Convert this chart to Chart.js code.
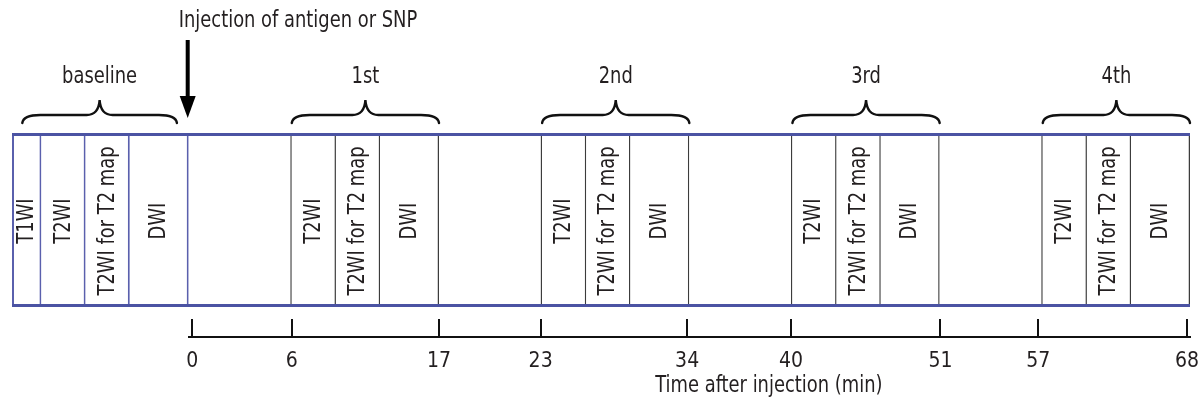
<!DOCTYPE html>
<html>
<head>
<meta charset="utf-8">
<script src="https://cdn.jsdelivr.net/npm/chart.js@4.4.1/dist/chart.umd.min.js"></script>
<style>
  html, body { margin: 0; padding: 0; background: #ffffff; }
  #wrap { width: 1200px; height: 407px; position: relative; }
</style>
</head>
<body>
<div id="wrap"><canvas id="c"></canvas></div>
<script>
// ---------------- data ----------------
// Cells of the MR protocol, on the drawn timeline (diagram units; 0 = injection)
const cellStart  = [-12, -10, -7, -4, 0, 7, 10, 13, 17, 24, 27, 30, 34, 41, 44, 47, 51, 58, 61, 64];
const cellEnd    = [-10, -7, -4, 0, 7, 10, 13, 17, 24, 27, 30, 34, 41, 44, 47, 51, 58, 61, 64, 68];
const cellLabels = ['T1WI', 'T2WI', 'T2WI for T2 map', 'DWI', '',
                    'T2WI', 'T2WI for T2 map', 'DWI', '',
                    'T2WI', 'T2WI for T2 map', 'DWI', '',
                    'T2WI', 'T2WI for T2 map', 'DWI', '',
                    'T2WI', 'T2WI for T2 map', 'DWI'];

// Axis ticks (position on the drawn timeline) and their labels (minutes)
const tickPositions = [0.25, 7, 17, 23.9, 33.85, 40.9, 51.05, 57.7, 67.8];
const tickLabels    = ['0', '6', '17', '23', '34', '40', '51', '57', '68'];
const axisTitle     = 'Time after injection (min)';

// Scan sessions marked with braces
const groupLabels = ['baseline', '1st', '2nd', '3rd', '4th'];
const braceStart  = [-11.3, 7, 24, 41, 58];
const braceEnd    = [-0.8, 17, 34, 51, 68];

// Injection marker
const injectionAt    = 0;
const injectionLabel = 'Injection of antigen or SNP';

// ---------------- styles ----------------
const FONT_FAMILY = "'Liberation Sans Narrow', 'Arial Narrow', 'DejaVu Sans Condensed', sans-serif";
const FONT_SIZE = 23;
const TEXT_SQUEEZE = 0.865;   // horizontal condensing of annotation text
const TICK_SIZE = 21;
const TEXT = '#231f20';
const FRAME_BLUE = '#4b53a3';
const BASE_BLUE = '#5a60ad';
const DARK = '#3c3c3c';
const ROW = 0.5;           // the single row of cells spans y 0..1
const Y_MIN = -0.1724;     // room between the row and the time axis
const Y_MAX = 1;
const X_MIN = 0, X_MAX = 68;

Chart.defaults.font.family = FONT_FAMILY;
Chart.defaults.font.size = FONT_SIZE;
Chart.defaults.color = TEXT;

const cellData = cellStart.map((s, i) => ({ x: [s, cellEnd[i]], y: ROW }));
const frameData = [{ x: [cellStart[0], cellEnd[cellEnd.length - 1]], y: ROW }];

const isBaseline = i => cellEnd[i] <= injectionAt;

function squeezedText(ctx, text, x, y, align) {
  ctx.save();
  ctx.translate(x, y);
  ctx.scale(TEXT_SQUEEZE, 1);
  ctx.textAlign = align || 'center';
  ctx.fillText(text, 0, 0);
  ctx.restore();
}

const annotations = {
  id: 'annotations',
  afterDatasetsDraw(chart) {
    const { ctx, chartArea, scales: { x } } = chart;
    ctx.save();
    ctx.fillStyle = TEXT;
    ctx.strokeStyle = '#111';
    ctx.font = FONT_SIZE + 'px ' + FONT_FAMILY;
    ctx.textBaseline = 'middle';

    // vertical labels inside cells
    const meta = chart.getDatasetMeta(0);
    meta.data.forEach((bar, i) => {
      const label = cellLabels[i];
      if (!label) return;
      const p = bar.getProps(['x', 'y', 'base'], true);
      const cx = (p.x + p.base) / 2;
      ctx.save();
      ctx.translate(cx, p.y + 1);
      ctx.rotate(-Math.PI / 2);
      squeezedText(ctx, label, 0, 0, 'center');
      ctx.restore();
    });

    // braces + session labels
    const top = chartArea.top;
    const yEnd = top - 10, yMid = top - 18, yTip = top - 33, yLabel = top - 56;
    ctx.lineWidth = 2.4;
    ctx.lineCap = 'round';
    groupLabels.forEach((g, i) => {
      const x0 = x.getPixelForValue(braceStart[i]);
      const x1 = x.getPixelForValue(braceEnd[i]);
      const xc = (x0 + x1) / 2;
      const r = 18, rt = 13;
      ctx.beginPath();
      ctx.moveTo(x0, yEnd);
      ctx.quadraticCurveTo(x0 + 1, yMid, x0 + r, yMid);
      ctx.lineTo(xc - rt, yMid);
      ctx.quadraticCurveTo(xc - 1, yMid, xc, yTip);
      ctx.quadraticCurveTo(xc + 1, yMid, xc + rt, yMid);
      ctx.lineTo(x1 - r, yMid);
      ctx.quadraticCurveTo(x1 - 1, yMid, x1, yEnd);
      ctx.stroke();
      squeezedText(ctx, g, xc, yLabel, 'center');
    });

    // injection arrow + label
    const ax = x.getPixelForValue(injectionAt) - 1;
    ctx.fillStyle = '#000';
    ctx.fillRect(ax - 2, top - 93, 4, 60);
    ctx.beginPath();
    ctx.moveTo(ax - 8, top - 37);
    ctx.lineTo(ax + 8, top - 37);
    ctx.lineTo(ax, top - 15);
    ctx.closePath();
    ctx.fill();
    ctx.fillStyle = TEXT;
    squeezedText(ctx, injectionLabel, ax - 9, top - 112, 'left');

    // axis title
    squeezedText(ctx, axisTitle, x.getPixelForValue(39.4), chartArea.bottom + 49, 'center');
    ctx.restore();
  }
};

new Chart(document.getElementById('c'), {
  type: 'bar',
  data: {
    datasets: [
      {
        label: 'cells',
        data: cellData,
        order: 1,
        clip: false,
        backgroundColor: '#ffffff',
        borderColor: ctx => isBaseline(ctx.dataIndex) ? BASE_BLUE : DARK,
        borderWidth: ctx => ({
          left: ctx.dataIndex === 0 ? 2 : 0,
          right: isBaseline(ctx.dataIndex) ? 2 : 1.5,
          top: 0, bottom: 0
        }),
        borderSkipped: false
      },
      {
        label: 'frame',
        data: frameData,
        order: 0,
        clip: false,
        backgroundColor: 'rgba(0,0,0,0)',
        borderColor: FRAME_BLUE,
        borderWidth: { left: 0, right: 0, top: 3, bottom: 3 },
        borderSkipped: false
      }
    ]
  },
  options: {
    indexAxis: 'y',
    responsive: true,
    maintainAspectRatio: false,
    animation: false,
    grouped: false,
    barPercentage: 1 / (Y_MAX - Y_MIN),
    categoryPercentage: 1,
    layout: { padding: { left: 188.7, right: 10, top: 133, bottom: 2 } },
    plugins: { legend: { display: false }, tooltip: { enabled: false } },
    scales: {
      y: {
        type: 'linear',
        min: Y_MIN,
        max: Y_MAX,
        offset: false,
        display: false,
        afterBuildTicks: s => { s.ticks = [{ value: Y_MIN }, { value: Y_MAX }]; }
      },
      x: {
        type: 'linear',
        position: 'bottom',
        min: X_MIN,
        max: X_MAX,
        offset: false,
        afterBuildTicks: s => { s.ticks = tickPositions.map(v => ({ value: v })); },
        ticks: {
          autoSkip: false,
          maxRotation: 0,
          padding: -2,
          color: TEXT,
          font: { size: TICK_SIZE, lineHeight: '90px' },
          callback: (v, i) => tickLabels[i]
        },
        grid: {
          drawOnChartArea: false,
          drawTicks: true,
          tickLength: -18,
          color: '#111',
          lineWidth: 2
        },
        border: { display: true, color: '#111', width: 2 },
        title: { display: false }
      }
    }
  },
  plugins: [annotations]
});
</script>
</body>
</html>
